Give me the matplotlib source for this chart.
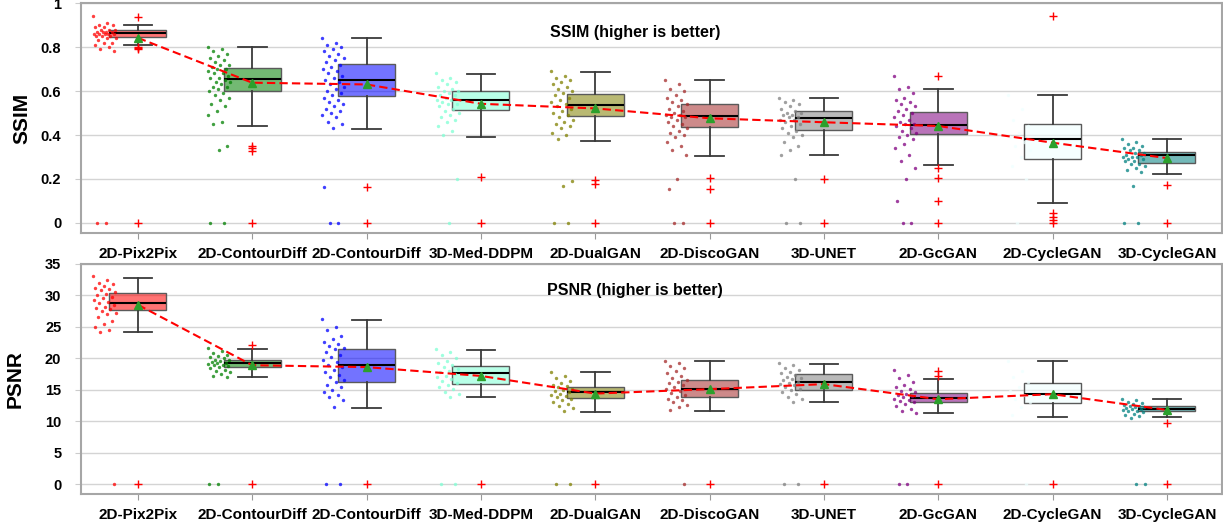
import numpy as np
import matplotlib
matplotlib.use("Agg")
import matplotlib.pyplot as plt

plt.rcParams['font.family'] = ['Liberation Sans', 'DejaVu Sans']

models = ["2D-Pix2Pix", "2D-ContourDiff", "2D-ContourDiff", "3D-Med-DDPM", "2D-DualGAN",
          "2D-DiscoGAN", "3D-UNET", "2D-GcGAN", "2D-CycleGAN", "3D-CycleGAN"]
colors = ["red", "green", "blue", "aquamarine", "olive", "brown", "gray", "purple", "azure", "teal"]

# ---- SSIM box statistics
ssim_q1 = [0.847, 0.601, 0.577, 0.512, 0.486, 0.438, 0.423, 0.406, 0.292, 0.274]
ssim_med = [0.862, 0.655, 0.650, 0.559, 0.536, 0.485, 0.477, 0.445, 0.380, 0.309]
ssim_q3 = [0.876, 0.705, 0.721, 0.601, 0.585, 0.541, 0.509, 0.505, 0.449, 0.321]
ssim_wlo = [0.808, 0.442, 0.427, 0.390, 0.371, 0.305, 0.310, 0.262, 0.090, 0.221]
ssim_whi = [0.900, 0.800, 0.840, 0.677, 0.688, 0.650, 0.567, 0.609, 0.580, 0.383]
ssim_mean = [0.842, 0.638, 0.630, 0.542, 0.521, 0.476, 0.458, 0.441, 0.365, 0.295]
ssim_out = [
    [0.935, 0.80, 0.795, 0.79, 0.0],
    [0.352, 0.34, 0.329, 0.0],
    [0.165, 0.0],
    [0.209, 0.0],
    [0.194, 0.175, 0.0],
    [0.206, 0.155, 0.0],
    [0.200, 0.0],
    [0.667, 0.251, 0.203, 0.099, 0.0],
    [0.941, 0.044, 0.029, 0.014, 0.0],
    [0.173, 0.0],
]
ssim_pts = [
    [0.94, 0.91, 0.90, 0.90, 0.89, 0.89, 0.88, 0.88, 0.88, 0.87, 0.87, 0.87, 0.87, 0.86, 0.86, 0.86,
     0.86, 0.86, 0.85, 0.85, 0.85, 0.84, 0.84, 0.83, 0.82, 0.82, 0.81, 0.80, 0.79, 0.78, 0.0, 0.0],
    [0.80, 0.79, 0.78, 0.77, 0.76, 0.75, 0.74, 0.73, 0.72, 0.72, 0.71, 0.70, 0.70, 0.69, 0.68, 0.68,
     0.67, 0.66, 0.66, 0.65, 0.64, 0.64, 0.63, 0.62, 0.62, 0.61, 0.60, 0.59, 0.58, 0.57, 0.56, 0.54,
     0.53, 0.51, 0.49, 0.46, 0.45, 0.35, 0.33, 0.0, 0.0],
    [0.84, 0.82, 0.81, 0.80, 0.79, 0.78, 0.77, 0.76, 0.75, 0.74, 0.73, 0.72, 0.71, 0.70, 0.69, 0.68,
     0.67, 0.66, 0.65, 0.64, 0.63, 0.62, 0.61, 0.60, 0.59, 0.58, 0.57, 0.56, 0.55, 0.54, 0.53, 0.52,
     0.51, 0.50, 0.49, 0.48, 0.46, 0.45, 0.43, 0.165, 0.0, 0.0],
    [0.68, 0.66, 0.65, 0.64, 0.63, 0.62, 0.61, 0.60, 0.60, 0.59, 0.58, 0.58, 0.57, 0.56, 0.56, 0.55,
     0.54, 0.54, 0.53, 0.52, 0.51, 0.50, 0.49, 0.48, 0.47, 0.46, 0.44, 0.42, 0.40, 0.2, 0.0],
    [0.69, 0.67, 0.66, 0.65, 0.64, 0.63, 0.62, 0.61, 0.60, 0.59, 0.58, 0.57, 0.56, 0.55, 0.54, 0.53,
     0.52, 0.51, 0.50, 0.49, 0.48, 0.47, 0.46, 0.45, 0.44, 0.43, 0.41, 0.40, 0.38, 0.19, 0.17, 0.0, 0.0],
    [0.65, 0.63, 0.61, 0.60, 0.58, 0.57, 0.56, 0.55, 0.54, 0.53, 0.52, 0.51, 0.50, 0.49, 0.49, 0.48,
     0.48, 0.47, 0.46, 0.45, 0.44, 0.43, 0.42, 0.41, 0.40, 0.39, 0.37, 0.35, 0.33, 0.31, 0.2, 0.155,
     0.0, 0.0],
    [0.57, 0.56, 0.55, 0.54, 0.53, 0.52, 0.51, 0.50, 0.50, 0.49, 0.49, 0.48, 0.48, 0.47, 0.47, 0.46,
     0.45, 0.44, 0.43, 0.42, 0.41, 0.40, 0.39, 0.37, 0.35, 0.33, 0.31, 0.2, 0.0, 0.0],
    [0.67, 0.62, 0.61, 0.59, 0.57, 0.56, 0.55, 0.54, 0.53, 0.52, 0.51, 0.50, 0.49, 0.48, 0.47, 0.46,
     0.45, 0.45, 0.44, 0.43, 0.42, 0.41, 0.40, 0.39, 0.38, 0.36, 0.34, 0.31, 0.28, 0.25, 0.2, 0.1,
     0.0, 0.0],
    [0.58, 0.52, 0.47, 0.44, 0.41, 0.39, 0.37, 0.35, 0.33, 0.30, 0.26, 0.20, 0.0],
    [0.38, 0.37, 0.36, 0.35, 0.34, 0.34, 0.33, 0.33, 0.32, 0.32, 0.31, 0.31, 0.30, 0.30, 0.30, 0.29,
     0.29, 0.28, 0.28, 0.27, 0.27, 0.26, 0.25, 0.24, 0.23, 0.17, 0.0, 0.0],
]

# ---- PSNR box statistics
psnr_q1 = [27.6, 18.6, 16.3, 15.9, 13.7, 13.9, 15.0, 13.0, 12.9, 11.6]
psnr_med = [28.7, 19.3, 19.0, 17.7, 14.7, 15.1, 16.3, 13.7, 14.3, 12.0]
psnr_q3 = [30.3, 19.8, 21.5, 18.8, 15.5, 16.6, 17.5, 14.5, 16.0, 12.5]
psnr_wlo = [24.1, 17.0, 12.1, 13.8, 11.5, 11.7, 13.0, 11.3, 10.6, 10.7]
psnr_whi = [32.8, 21.4, 26.1, 21.3, 17.9, 19.5, 19.1, 16.7, 19.5, 13.5]
psnr_mean = [28.5, 18.9, 18.6, 17.2, 14.4, 15.1, 15.9, 13.5, 14.3, 11.8]
psnr_out = [
    [0.0], [22.1, 0.0], [0.0], [0.0], [0.0], [0.0], [0.0], [18.0, 17.2, 0.0], [0.0], [9.8, 0.0],
]
psnr_pts = [
    [33.0, 32.5, 32.0, 31.8, 31.5, 31.2, 31.0, 30.8, 30.5, 30.2, 30.0, 29.8, 29.5, 29.2, 29.0, 28.8,
     28.5, 28.2, 28.0, 27.8, 27.5, 27.2, 27.0, 26.5, 26.0, 25.5, 25.0, 24.5, 24.1, 0.0],
    [21.6, 21.2, 20.9, 20.6, 20.4, 20.2, 20.0, 19.8, 19.7, 19.5, 19.4, 19.3, 19.2, 19.1, 19.0, 18.9,
     18.8, 18.6, 18.4, 18.2, 18.0, 17.8, 17.5, 17.2, 17.0, 0.0, 0.0],
    [26.2, 25.0, 24.5, 23.5, 23.0, 22.6, 22.3, 22.0, 21.7, 21.4, 21.0, 20.6, 20.2, 19.8, 19.4, 19.0,
     18.6, 18.2, 17.8, 17.4, 17.0, 16.6, 16.2, 15.8, 15.4, 15.0, 14.6, 14.2, 13.8, 13.4, 12.2, 0.0, 0.0],
    [21.5, 21.0, 20.5, 20.0, 19.6, 19.2, 18.9, 18.6, 18.3, 18.0, 17.8, 17.5, 17.2, 17.0, 16.7, 16.4,
     16.1, 15.8, 15.5, 15.1, 14.7, 14.3, 13.9, 0.0, 0.0],
    [17.9, 17.2, 16.8, 16.4, 16.1, 15.8, 15.6, 15.4, 15.2, 15.0, 14.8, 14.6, 14.4, 14.2, 14.0, 13.8,
     13.6, 13.4, 13.1, 12.8, 12.5, 12.1, 11.7, 0.0, 0.0],
    [19.6, 19.2, 18.8, 18.4, 18.0, 17.6, 17.2, 16.9, 16.6, 16.3, 16.0, 15.7, 15.4, 15.1, 14.8, 14.5,
     14.2, 13.9, 13.6, 13.3, 13.0, 12.6, 12.2, 11.8, 0.0],
    [19.3, 18.9, 18.5, 18.2, 17.9, 17.6, 17.4, 17.1, 16.9, 16.7, 16.5, 16.3, 16.1, 15.9, 15.7, 15.5,
     15.2, 14.9, 14.6, 14.3, 13.9, 13.5, 13.1, 0.0, 0.0],
    [18.2, 17.4, 16.8, 16.2, 15.8, 15.4, 15.1, 14.8, 14.6, 14.4, 14.2, 14.0, 13.8, 13.6, 13.4, 13.2,
     13.0, 12.7, 12.4, 12.0, 11.6, 11.3, 0.0, 0.0],
    [19.5, 18.0, 17.0, 16.2, 15.5, 14.8, 14.2, 13.6, 13.0, 12.2, 11.0, 0.0],
    [13.6, 13.3, 13.1, 12.9, 12.8, 12.6, 12.5, 12.4, 12.3, 12.2, 12.1, 12.0, 11.9, 11.8, 11.7, 11.6,
     11.4, 11.2, 11.0, 10.8, 10.5, 0.0, 0.0],
]

positions = np.arange(1, len(models) + 1)


def draw_panel(ax, q1, med, q3, wlo, whi, mean, out, pts, ylim, yticks, yticklabels,
               ylabel, labelx, title, title_y):
	stats = []
	for i in range(len(models)):
		stats.append({"med": med[i], "q1": q1[i], "q3": q3[i], "whislo": wlo[i], "whishi": whi[i],
		              "mean": mean[i], "fliers": out[i]})
	bp = ax.bxp(stats, positions=positions, widths=0.5, patch_artist=True, showmeans=True,
	            boxprops=dict(edgecolor="#5a5a5a", linewidth=1.0),
	            medianprops=dict(color="black", linewidth=1.5),
	            whiskerprops=dict(color="#3a3a3a", linewidth=1.3),
	            capprops=dict(color="#3a3a3a", linewidth=1.3),
	            flierprops=dict(marker="+", markeredgecolor="red", markersize=6, markeredgewidth=1.0),
	            meanprops=dict(marker="^", markerfacecolor="#2ca02c", markeredgecolor="#2ca02c", markersize=6),
	            zorder=3)
	for patch, c in zip(bp["boxes"], colors):
		patch.set_facecolor(matplotlib.colors.to_rgba(c, 0.55))
	for m in bp["means"]:
		m.set_zorder(6)

	# jittered raw points to the left of each box (deterministic spread)
	for i, vals in enumerate(pts):
		n = len(vals)
		jit = ((np.arange(n) * 0.618034) % 1.0 - 0.5) * 0.2
		ax.scatter(positions[i] - 0.29 + jit, vals, s=6, color=colors[i], alpha=0.75,
		           linewidths=0, zorder=4)

	ax.plot(positions, mean, ls="--", color="red", lw=1.5, dashes=(4, 2), zorder=5)

	ax.set_xlim(0.5, 10.48)
	ax.set_ylim(*ylim)
	ax.set_yticks(yticks)
	ax.set_yticklabels(yticklabels, fontsize=10.5, fontweight="bold")
	ax.set_xticks(positions)
	ax.set_xticklabels(models, fontsize=11, fontweight="bold")
	ax.tick_params(axis="y", length=4, color="#cccccc", pad=10)
	ax.tick_params(axis="x", length=4, color="#999999", pad=6)
	ax.grid(axis="y", color="#d4d4d4", lw=1.0, zorder=0)
	ax.set_axisbelow(True)
	for sp in ax.spines.values():
		sp.set_color("#a6a6a6")
		sp.set_linewidth(1.5)
	ax.set_ylabel(ylabel, fontsize=15, fontweight="bold")
	ax.yaxis.set_label_coords(labelx, 0.5)
	ax.text(0.5 + 0.486 * 9.98, title_y, title, ha="center", va="center",
	        fontsize=11.5, fontweight="bold")


fig = plt.figure(figsize=(12.23, 5.22), dpi=100)
ax1 = fig.add_axes([0.066, 0.554, 0.933, 0.44])
ax2 = fig.add_axes([0.066, 0.053, 0.933, 0.4416])

draw_panel(ax1, ssim_q1, ssim_med, ssim_q3, ssim_wlo, ssim_whi, ssim_mean, ssim_out, ssim_pts,
           (-0.045, 1.0), [0, 0.2, 0.4, 0.6, 0.8, 1.0], ["0", "0.2", "0.4", "0.6", "0.8", "1"],
           "SSIM", -0.043, "SSIM (higher is better)", 0.868)

draw_panel(ax2, psnr_q1, psnr_med, psnr_q3, psnr_wlo, psnr_whi, psnr_mean, psnr_out, psnr_pts,
           (-1.6, 35), [0, 5, 10, 15, 20, 25, 30, 35], ["0", "5", "10", "15", "20", "25", "30", "35"],
           "PSNR", -0.049, "PSNR (higher is better)", 30.8)

fig.savefig("out.png", dpi=100)
